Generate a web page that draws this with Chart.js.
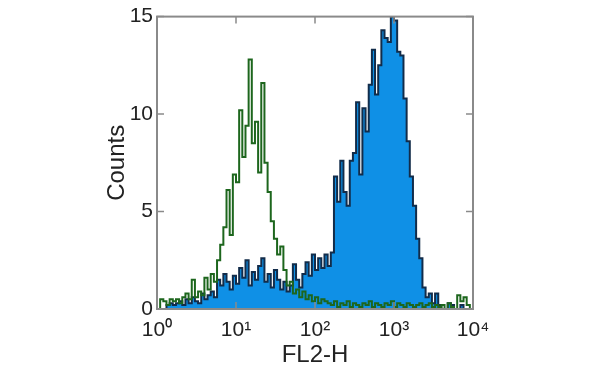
<!DOCTYPE html>
<html>
<head>
<meta charset="utf-8">
<script src="https://cdn.jsdelivr.net/npm/chart.js@4/dist/chart.umd.min.js"></script>
<style>
  html, body { margin: 0; padding: 0; background: #ffffff; }
  #wrap { width: 600px; height: 374px; }
</style>
</head>
<body>
<div id="wrap"><canvas id="c" width="600" height="374"></canvas></div>
<script>
// Histogram bins along log10(FL2-H), decades 0..4
const binWidth = 0.04;
const xTickValues = [0, 1, 2, 3, 4];
const xTickLabels = ['10\u2070', '10\u00B9', '10\u00B2', '10\u00B3', '10\u2074'];
const yTickValues = [0, 5, 10, 15];

// Isotype control (green outline)
const greenCounts = [
  1.0, 0, 0.5, 0.4, 0.2, 0.5, 0.4, 0.5, 0.3, 0.6,
  0.8, 0.5, 1.5, 0.6, 0.9, 0.7, 1.6, 1.0, 1.8, 1.4,
  2.5, 3.3, 4.2, 6.1, 3.8, 6.9, 6.5, 10.2, 7.8, 9.4,
  12.8, 8.5, 9.6, 7.0, 11.6, 7.5, 6.0, 4.5, 3.6, 2.8,
  3.2, 2.0, 1.2, 1.4, 0.8, 1.0, 0.6, 0.9, 0.5, 0.7,
  0.4, 0.6, 0.3, 0.5, 0.4, 0.3, 0.2, 0.4, 0.1, 0.3,
  0.2, 0.4, 0.1, 0.3, 0.2, 0.1, 0.3, 0.2, 0.4, 0.1,
  0.3, 0.2, 0.1, 0.3, 0.2, 0.4, 0.1, 0.3, 0.2, 0.1,
  0.3, 0.2, 0.1, 0.2, 0.3, 0.1, 0.2, 0.3, 0.1, 0.2,
  0.1, 0.2, 0.0, 0.3, 0.1, 0.0, 0.7, 0.4, 0.6, 0.2
];

// Stained sample (blue filled)
const blueCounts = [
  0, 0, 0, 0, 0.2, 0.3, 0.2, 0.3, 0.4, 0.2,
  0.5, 0.3, 0.6, 0.4, 0.3, 0.8, 0.5, 0.7, 0.9, 0.6,
  1.5, 1.2, 1.8, 1.4, 1.0, 1.7, 1.3, 2.1, 1.6, 2.5,
  1.2, 1.9, 1.5, 2.2, 2.6, 1.4, 1.8, 1.1, 2.0, 1.5,
  1.0, 1.4, 0.9, 1.2, 2.3, 1.5, 1.1, 1.8, 2.4, 1.7,
  2.8, 2.0, 2.6, 2.1, 2.8, 2.2, 2.9, 6.8, 5.5, 7.6,
  6.0, 5.3, 7.6, 8.0, 10.6, 6.9, 10.3, 9.1, 11.5, 13.3,
  11.0, 12.5, 14.3, 13.9, 13.7, 15.0, 14.8, 13.2, 13.0, 10.8,
  8.6, 6.8, 5.3, 3.6, 2.6, 1.1, 0.6, 0.8, 0.3, 0.8,
  0.2, 0, 0, 0.3, 0.2, 0, 0, 0.2, 0, 0
];

function toSteps(counts) {
  const pts = counts.map((v, i) => ({ x: i * binWidth, y: v }));
  pts.push({ x: counts.length * binWidth, y: 0 });
  return pts;
}

const FONT = "'Liberation Sans', Arial, Helvetica, sans-serif";

const frame = {
  id: 'frame',
  afterDraw(chart) {
    const { ctx, chartArea: a, scales } = chart;
    const xs = scales.x, ys = scales.y;
    ctx.save();
    ctx.strokeStyle = '#8a8a8a';
    ctx.lineWidth = 2;
    ctx.strokeRect(a.left, a.top, a.right - a.left, a.bottom - a.top);
    ctx.lineWidth = 1.5;
    ctx.beginPath();
    yTickValues.forEach(v => {
      const y = ys.getPixelForValue(v);
      ctx.moveTo(a.left, y); ctx.lineTo(a.left + 7, y);
      ctx.moveTo(a.right, y); ctx.lineTo(a.right - 7, y);
    });
    xTickValues.forEach(v => {
      const x = xs.getPixelForValue(v);
      ctx.moveTo(x, a.top); ctx.lineTo(x, a.top + 7);
      ctx.moveTo(x, a.bottom); ctx.lineTo(x, a.bottom - 7);
    });
    ctx.stroke();
    ctx.restore();
  }
};

new Chart(document.getElementById('c'), {
  type: 'line',
  data: {
    datasets: [
      {
        label: 'Isotype',
        data: toSteps(greenCounts),
        stepped: 'after',
        borderColor: '#1d661d',
        borderWidth: 2,
        backgroundColor: 'rgba(0,0,0,0)',
        fill: false,
        pointRadius: 0
      },
      {
        label: 'Stained',
        data: toSteps(blueCounts),
        stepped: 'after',
        borderColor: '#122c4a',
        borderWidth: 2,
        backgroundColor: '#0f90e6',
        fill: 'origin',
        pointRadius: 0
      }
    ]
  },
  options: {
    responsive: false,
    animation: false,
    events: [],
    layout: { padding: { left: 100, right: 127, top: 12, bottom: 4 } },
    plugins: { legend: { display: false }, tooltip: { enabled: false } },
    scales: {
      x: {
        type: 'linear',
        min: 0, max: 4,
        afterFit(s) { s.height = 61; },
        afterBuildTicks(s) { s.ticks = xTickValues.map(v => ({ value: v })); },
        grid: { display: false, drawTicks: false },
        border: { display: false },
        ticks: {
          padding: 9,
          color: '#222222',
          font: { family: FONT, size: 21 },
          maxRotation: 0,
          callback: (v) => xTickLabels[xTickValues.indexOf(v)]
        },
        title: {
          display: true,
          text: 'FL2-H',
          color: '#222222',
          font: { family: FONT, size: 24 },
          padding: { top: 0, bottom: 0 }
        }
      },
      y: {
        type: 'linear',
        min: 0, max: 15,
        afterFit(s) { s.width = 57; },
        afterBuildTicks(s) { s.ticks = yTickValues.map(v => ({ value: v })); },
        grid: { display: false, drawTicks: false },
        border: { display: false },
        ticks: {
          padding: 4,
          color: '#222222',
          font: { family: FONT, size: 21 }
        },
        title: {
          display: true,
          text: 'Counts',
          color: '#222222',
          font: { family: FONT, size: 24 },
          padding: { top: 3, bottom: 0 }
        }
      }
    }
  },
  plugins: [frame]
});
</script>
</body>
</html>
